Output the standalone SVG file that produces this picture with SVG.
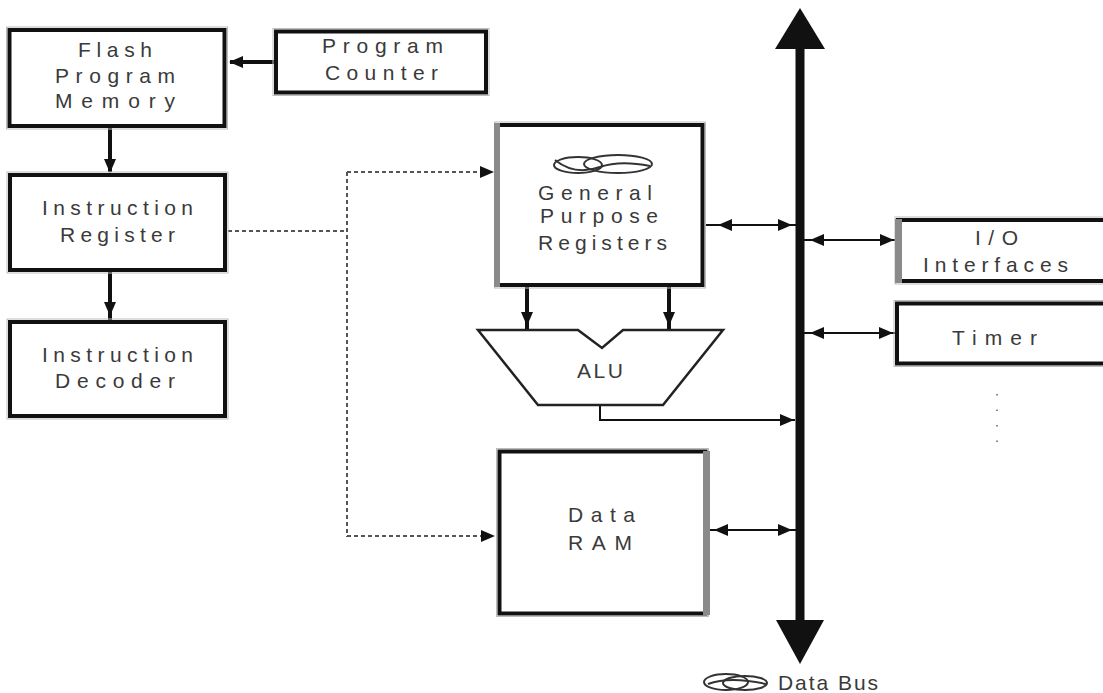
<svg xmlns="http://www.w3.org/2000/svg" width="1103" height="693" viewBox="0 0 1103 693">
<style>
.box{fill:#fff;stroke:#111;stroke-width:4}
.halo{fill:none;stroke:#bbb;stroke-width:1}
.lbl{font-family:"Liberation Sans",Arial,sans-serif;font-size:21px;fill:#3a3a3a}
.wire{fill:none;stroke:#111;stroke-width:2}
.thick{fill:none;stroke:#111;stroke-width:4}
.dash{fill:none;stroke:#555;stroke-width:2;stroke-dasharray:4 3}
.grayedge{fill:#8a8a8a}
.ah{fill:#111}
</style>
<defs>
<path id="ah" d="M0,0 L-14,-6 L-14,6 Z"/>
</defs>
<rect width="1103" height="693" fill="#fff"/>

<g id="connectors">
  <line class="thick" x1="274" y1="62" x2="230" y2="62"/>
  <use href="#ah" class="ah" transform="translate(229,62) rotate(180)"/>
  <line class="thick" x1="110" y1="128" x2="110" y2="172"/>
  <use href="#ah" class="ah" transform="translate(110,173) rotate(90)"/>
  <line class="thick" x1="110" y1="272" x2="110" y2="320"/>
  <use href="#ah" class="ah" transform="translate(110,316) rotate(90)"/>
  <polyline class="dash" points="228,231 347,231"/>
  <line class="dash" x1="347" y1="172" x2="347" y2="537"/>
  <line class="dash" x1="347" y1="172" x2="482" y2="172"/>
  <use href="#ah" class="ah" transform="translate(494,172)"/>
  <line class="dash" x1="347" y1="536" x2="482" y2="536"/>
  <use href="#ah" class="ah" transform="translate(495,536)"/>
  <line class="thick" x1="527" y1="287" x2="527" y2="330"/>
  <use href="#ah" class="ah" transform="translate(527,326) rotate(90)"/>
  <line class="thick" x1="669" y1="287" x2="669" y2="330"/>
  <use href="#ah" class="ah" transform="translate(669,326) rotate(90)"/>
  <line class="wire" x1="705" y1="225" x2="796" y2="225"/>
  <use href="#ah" class="ah" transform="translate(718,225) rotate(180)"/>
  <use href="#ah" class="ah" transform="translate(792,225)"/>
  <polyline class="wire" points="600,405 600,420 795,420"/>
  <use href="#ah" class="ah" transform="translate(794,420)"/>
  <line class="wire" x1="710" y1="530" x2="796" y2="530"/>
  <use href="#ah" class="ah" transform="translate(714,530) rotate(180)"/>
  <use href="#ah" class="ah" transform="translate(792,530)"/>
  <line class="wire" x1="804" y1="240" x2="897" y2="240"/>
  <use href="#ah" class="ah" transform="translate(810,240) rotate(180)"/>
  <use href="#ah" class="ah" transform="translate(894,240)"/>
  <line class="wire" x1="804" y1="333" x2="896" y2="333"/>
  <use href="#ah" class="ah" transform="translate(810,333) rotate(180)"/>
  <use href="#ah" class="ah" transform="translate(893,333)"/>
</g>

<g id="data-bus">
  <rect x="795.5" y="44" width="9" height="580" fill="#111"/>
  <polygon points="800,8 825,49 775,49" fill="#111"/>
  <polygon points="800,664 824,620 776,620" fill="#111"/>
  <g fill="none" stroke="#333" stroke-width="2">
    <ellipse cx="726" cy="682" rx="22" ry="8"/>
    <ellipse cx="745" cy="683" rx="22" ry="7"/>
    <path d="M708,684 Q730,676 766,684"/>
  </g>
  <text class="lbl" x="778" y="690" textLength="100" lengthAdjust="spacing">Data Bus</text>
</g>

<g id="flash">
  <rect class="halo" x="6.5" y="27" width="221" height="102"/>
  <rect class="box" x="9.5" y="30" width="215" height="96"/>
  <text class="lbl" x="78" y="57" textLength="74" lengthAdjust="spacing">Flash</text>
  <text class="lbl" x="55" y="83" textLength="120" lengthAdjust="spacing">Program</text>
  <text class="lbl" x="55" y="108" textLength="120" lengthAdjust="spacing">Memory</text>
</g>

<g id="program-counter">
  <rect class="halo" x="273" y="28.5" width="216" height="67"/>
  <rect class="box" x="276" y="31.5" width="210" height="61"/>
  <text class="lbl" x="322" y="53" textLength="121" lengthAdjust="spacing">Program</text>
  <text class="lbl" x="325" y="80" textLength="113" lengthAdjust="spacing">Counter</text>
</g>

<g id="instruction-register">
  <rect class="halo" x="7" y="172" width="221" height="101"/>
  <rect class="box" x="10" y="175" width="215" height="95"/>
  <text class="lbl" x="42" y="215" textLength="151" lengthAdjust="spacing">Instruction</text>
  <text class="lbl" x="60" y="242" textLength="115" lengthAdjust="spacing">Register</text>
</g>

<g id="instruction-decoder">
  <rect class="halo" x="7" y="319" width="221" height="100"/>
  <rect class="box" x="10" y="322" width="215" height="94"/>
  <text class="lbl" x="42" y="362" textLength="151" lengthAdjust="spacing">Instruction</text>
  <text class="lbl" x="55" y="388" textLength="120" lengthAdjust="spacing">Decoder</text>
</g>

<g id="gpr">
  <rect class="halo" x="494.5" y="122" width="211" height="166"/>
  <rect class="box" x="497.5" y="125" width="205" height="160"/>
  <rect class="grayedge" x="494" y="123" width="6" height="164"/>
  <g fill="none" stroke="#333" stroke-width="2">
    <ellipse cx="578" cy="165" rx="24" ry="8"/>
    <ellipse cx="618" cy="164" rx="34" ry="9"/>
    <path d="M555,160 Q575,176 600,167 Q620,160 650,166"/>
  </g>
  <text class="lbl" x="538" y="200" textLength="114" lengthAdjust="spacing">General</text>
  <text class="lbl" x="540" y="223" textLength="118" lengthAdjust="spacing">Purpose</text>
  <text class="lbl" x="538" y="250" textLength="129" lengthAdjust="spacing">Registers</text>
</g>

<g id="alu">
  <polygon points="478,330 578,330 602,348 623,330 723,330 663,405 538,405" fill="#fff" stroke="#222" stroke-width="2.5"/>
  <text class="lbl" x="577" y="378" textLength="46" lengthAdjust="spacing">ALU</text>
</g>

<g id="data-ram">
  <rect class="halo" x="496.5" y="448.5" width="212" height="168"/>
  <rect class="box" x="499.5" y="451.5" width="206" height="162"/>
  <rect class="grayedge" x="703" y="451" width="7" height="164"/>
  <text class="lbl" x="568" y="522" textLength="67" lengthAdjust="spacing">Data</text>
  <text class="lbl" x="568" y="550" textLength="64" lengthAdjust="spacing">RAM</text>
</g>

<g id="io-interfaces">
  <rect class="halo" x="895" y="217" width="226" height="67"/>
  <rect class="box" x="898" y="220" width="220" height="61"/>
  <rect class="grayedge" x="895" y="219" width="7" height="64"/>
  <text class="lbl" x="975" y="245" textLength="43" lengthAdjust="spacing">I/O</text>
  <text class="lbl" x="923" y="272" textLength="145" lengthAdjust="spacing">Interfaces</text>
</g>

<g id="timer">
  <rect class="halo" x="894" y="300.5" width="226" height="66"/>
  <rect class="box" x="897" y="303.5" width="220" height="60"/>
  <text class="lbl" x="952" y="345" textLength="85" lengthAdjust="spacing">Timer</text>
</g>

<g id="more">
  <line x1="997" y1="394" x2="997" y2="442" stroke="#666" stroke-width="1.5" stroke-dasharray="1.5 14"/>
</g>
</svg>
